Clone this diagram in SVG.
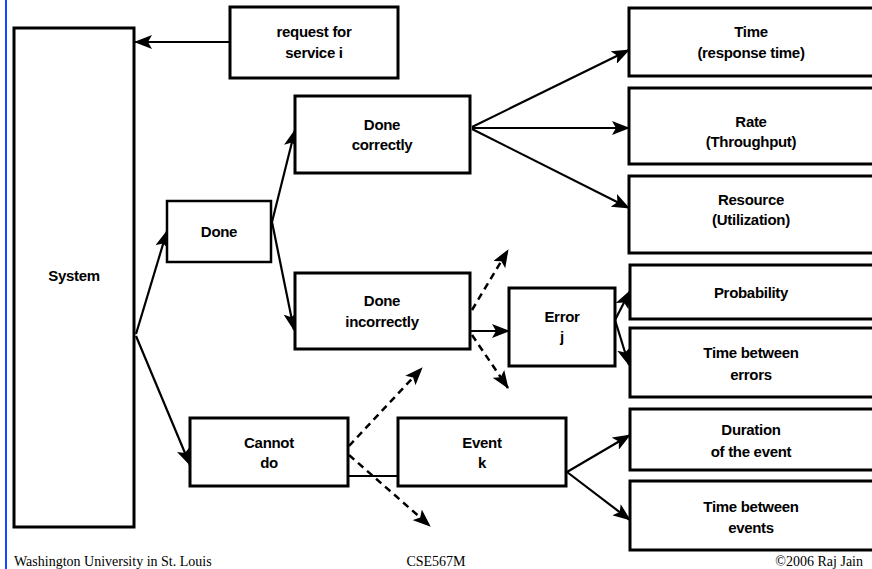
<svg xmlns="http://www.w3.org/2000/svg" width="872" height="569" viewBox="0 0 872 569">
<defs>
<style>
.box{fill:#fff;stroke:#000;stroke-width:2.5}
.thick{stroke-width:3}
.lbl{font-family:"Liberation Sans",Arial,sans-serif;font-weight:bold;font-size:15px;text-anchor:middle;fill:#000;letter-spacing:-0.3px}
.ft{font-family:"Liberation Serif","Times New Roman",serif;font-size:14px;fill:#000}
.c{fill:none;stroke:#000;stroke-width:2.2}
.d{fill:none;stroke:#000;stroke-width:2.5;stroke-dasharray:7 5}
</style>
<marker id="ah" markerUnits="userSpaceOnUse" markerWidth="18" markerHeight="14" refX="17" refY="7" orient="auto">
<path d="M0,0 L18,7 L0,14 L4,7 Z" fill="#000"/>
</marker>
</defs>
<rect width="872" height="569" fill="#fff"/>
<line x1="6" y1="0" x2="6" y2="569" stroke="#1447ff" stroke-width="2"/>

<g id="connectors">
<line class="c" x1="230" y1="42" x2="135" y2="42" marker-end="url(#ah)"/>
<line class="c" x1="136" y1="334" x2="167" y2="231" marker-end="url(#ah)"/>
<line class="c" x1="136" y1="336" x2="190" y2="465" marker-end="url(#ah)"/>
<line class="c" x1="272" y1="222" x2="295" y2="130" marker-end="url(#ah)"/>
<line class="c" x1="272" y1="222" x2="294" y2="330" marker-end="url(#ah)"/>
<line class="c" x1="472" y1="127" x2="629" y2="50" marker-end="url(#ah)"/>
<line class="c" x1="472" y1="128" x2="629" y2="128" marker-end="url(#ah)"/>
<line class="c" x1="472" y1="129" x2="629" y2="208" marker-end="url(#ah)"/>
<line class="c" x1="471" y1="331" x2="509" y2="331" marker-end="url(#ah)"/>
<line class="d" x1="472" y1="310" x2="508" y2="250" marker-end="url(#ah)"/>
<line class="d" x1="472" y1="335" x2="508" y2="388" marker-end="url(#ah)"/>
<line class="c" x1="615" y1="320" x2="630" y2="291" marker-end="url(#ah)"/>
<line class="c" x1="615" y1="320" x2="629" y2="365" marker-end="url(#ah)"/>
<line class="d" x1="349" y1="446" x2="422" y2="368" marker-end="url(#ah)"/>
<line class="d" x1="349" y1="455" x2="430" y2="526" marker-end="url(#ah)"/>
<line class="c" x1="348" y1="476" x2="398" y2="476"/>
<line class="c" x1="567" y1="472" x2="630" y2="435" marker-end="url(#ah)"/>
<line class="c" x1="567" y1="472" x2="630" y2="520" marker-end="url(#ah)"/>
</g>

<g id="system"><rect class="box thick" x="14" y="28" width="120" height="499"/><text class="lbl" x="74" y="281">System</text></g>
<g id="request"><rect class="box thick" x="230" y="7" width="168" height="71"/><text class="lbl" x="314" y="37">request for</text><text class="lbl" x="314" y="58">service i</text></g>
<g id="done"><rect class="box" x="167" y="201" width="104" height="61"/><text class="lbl" x="219" y="237">Done</text></g>
<g id="done-correctly"><rect class="box thick" x="295" y="96" width="175" height="77"/><text class="lbl" x="382" y="130">Done</text><text class="lbl" x="382" y="150">correctly</text></g>
<g id="done-incorrectly"><rect class="box thick" x="295" y="273" width="175" height="76"/><text class="lbl" x="382" y="306">Done</text><text class="lbl" x="382" y="327">incorrectly</text></g>
<g id="error"><rect class="box thick" x="509" y="288" width="106" height="78"/><text class="lbl" x="562" y="322">Error</text><text class="lbl" x="562" y="342">j</text></g>
<g id="cannot-do"><rect class="box thick" x="190" y="418" width="158" height="68"/><text class="lbl" x="269" y="448">Cannot</text><text class="lbl" x="269" y="468">do</text></g>
<g id="event"><rect class="box thick" x="398" y="418" width="168" height="68"/><text class="lbl" x="482" y="448">Event</text><text class="lbl" x="482" y="468">k</text></g>
<g id="time"><rect class="box thick" x="629" y="8" width="260" height="68"/><text class="lbl" x="751" y="37">Time</text><text class="lbl" x="751" y="58">(response time)</text></g>
<g id="rate"><rect class="box thick" x="629" y="88" width="260" height="76"/><text class="lbl" x="751" y="127">Rate</text><text class="lbl" x="751" y="147">(Throughput)</text></g>
<g id="resource"><rect class="box thick" x="629" y="176" width="260" height="77"/><text class="lbl" x="751" y="205">Resource</text><text class="lbl" x="751" y="225">(Utilization)</text></g>
<g id="probability"><rect class="box thick" x="630" y="265" width="260" height="54"/><text class="lbl" x="751" y="298">Probability</text></g>
<g id="time-between-errors"><rect class="box thick" x="630" y="328" width="260" height="69"/><text class="lbl" x="751" y="358">Time between</text><text class="lbl" x="751" y="380">errors</text></g>
<g id="duration"><rect class="box thick" x="630" y="409" width="260" height="61"/><text class="lbl" x="751" y="435">Duration</text><text class="lbl" x="751" y="457">of the event</text></g>
<g id="time-between-events"><rect class="box thick" x="630" y="481" width="260" height="69"/><text class="lbl" x="751" y="512">Time between</text><text class="lbl" x="751" y="533">events</text></g>

<g id="footer">
<text class="ft" x="14" y="566">Washington University in St. Louis</text>
<text class="ft" x="436" y="566" text-anchor="middle">CSE567M</text>
<text class="ft" x="863" y="566" text-anchor="end">©2006 Raj Jain</text>
</g>
</svg>
